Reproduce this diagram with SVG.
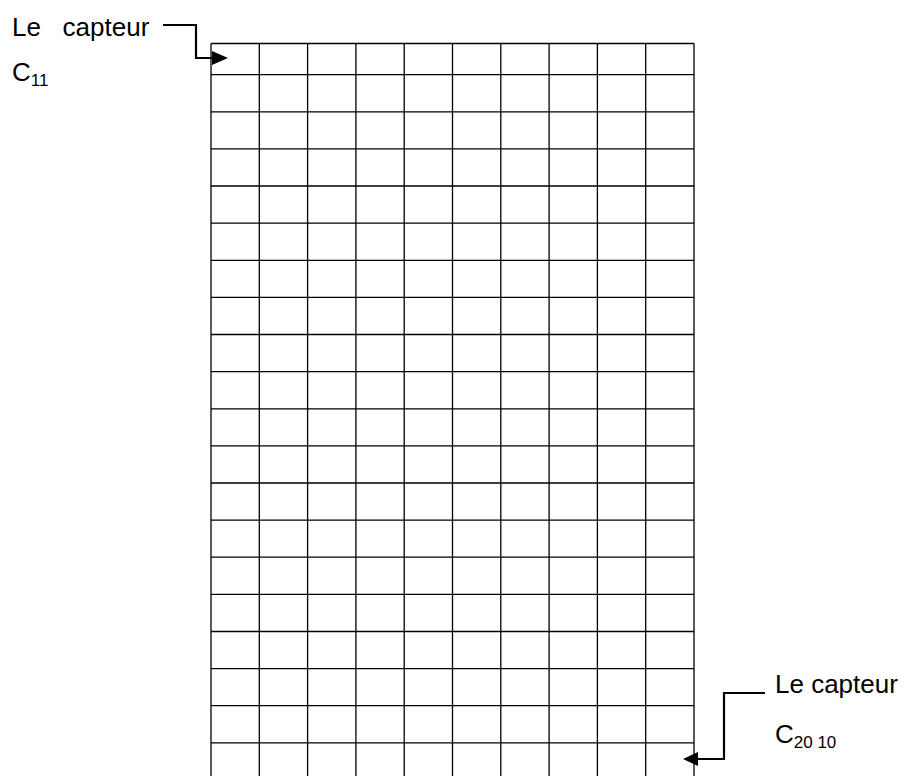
<svg xmlns="http://www.w3.org/2000/svg" width="905" height="776" viewBox="0 0 905 776">
<style>
text{font-family:"Liberation Sans",Arial,sans-serif;fill:#000;font-size:26px}
.sub{font-size:17px}
.g{stroke:#000;stroke-width:1.3;fill:none}
.c{stroke:#000;stroke-width:2.2;fill:none}
</style>
<g id="grid" class="g">
<path d="M211,43.5 V776 M259.3,43.5 V776 M307.6,43.5 V776 M355.9,43.5 V776 M404.2,43.5 V776 M452.5,43.5 V776 M500.8,43.5 V776 M549.1,43.5 V776 M597.4,43.5 V776 M645.7,43.5 V776 M694,43.5 V776"/>
<path d="M211,43.5 H694 M211,74.7 H694 M211,111.8 H694 M211,148.9 H694 M211,186 H694 M211,223.2 H694 M211,260.3 H694 M211,297.4 H694 M211,334.5 H694 M211,371.6 H694 M211,408.8 H694 M211,445.9 H694 M211,483 H694 M211,520.1 H694 M211,557.2 H694 M211,594.4 H694 M211,631.5 H694 M211,668.6 H694 M211,705.7 H694 M211,742.8 H694"/>
</g>
<g id="label-c11">
<text x="12" y="36" xml:space="preserve">Le   capteur</text>
<text x="12" y="81">C<tspan class="sub" dy="5">11</tspan></text>
</g>
<g id="label-c2010">
<text x="775" y="693">Le capteur</text>
<text x="775" y="743">C<tspan class="sub" dy="5">20 10</tspan></text>
</g>
<g id="connectors">
<path class="c" d="M163,25 H196 V58 H212"/>
<path d="M212,51 L228,58 L212,65 Z"/>
<path class="c" d="M765,693 H724 V759 H698"/>
<path d="M698,752 L683,759 L698,766 Z"/>
</g>
</svg>
